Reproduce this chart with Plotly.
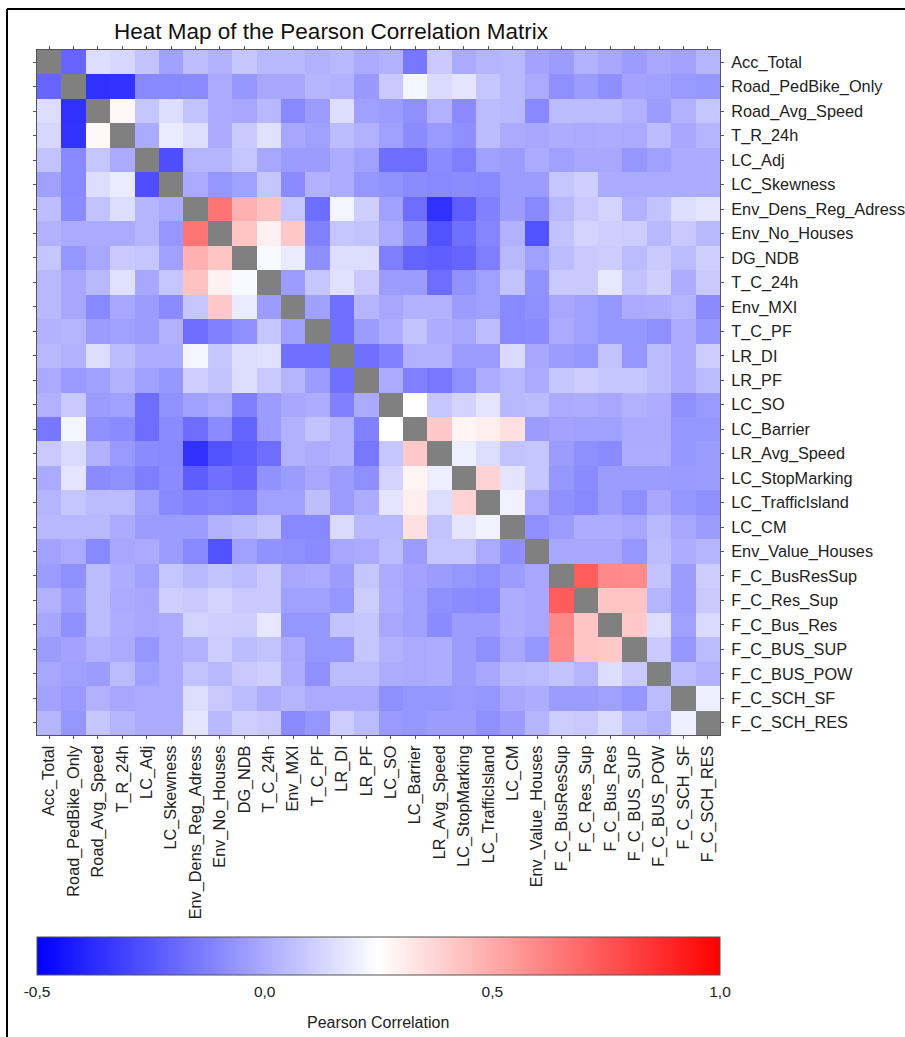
import numpy as np
import plotly.graph_objects as go

labels = ["Acc_Total","Road_PedBike_Only","Road_Avg_Speed","T_R_24h","LC_Adj","LC_Skewness",
          "Env_Dens_Reg_Adress","Env_No_Houses","DG_NDB","T_C_24h","Env_MXI","T_C_PF","LR_DI","LR_PF",
          "LC_SO","LC_Barrier","LR_Avg_Speed","LC_StopMarking","LC_TrafficIsland","LC_CM",
          "Env_Value_Houses","F_C_BusResSup","F_C_Res_Sup","F_C_Bus_Res","F_C_BUS_SUP","F_C_BUS_POW",
          "F_C_SCH_SF","F_C_SCH_RES"]

# Upper triangle of the symmetric matrix: each row starts just right of the diagonal
r00 = [-.2,.15,.13,.07,-.03,.06,.02,.08,.04,.04,.02,.04,0,.02,-.15,.09,0,.03,.04,-.02,-.04,.02,-.01,-.04,-.01,-.02,.03]
r01 = [-.36,-.35,-.1,-.1,-.09,0,-.06,-.01,-.01,.03,.02,-.05,.09,.22,.14,.17,.08,.04,0,-.08,-.04,-.08,-.02,-.03,-.05,-.06]
r02 = [.27,.08,.15,.07,0,-.01,.04,-.1,-.04,.15,-.03,-.04,-.08,.02,-.09,.05,.04,-.1,.05,.05,.05,.02,-.04,.02,.08]
r03 = [0,.19,.15,0,.09,.16,-.01,-.03,.05,.02,-.03,-.09,-.05,-.08,.05,0,-.01,.01,0,.01,0,.05,-.01,.03]
r04 = [-.27,.03,.03,.08,-.01,-.04,-.04,.01,-.03,-.18,-.18,-.09,-.13,-.03,-.04,0,-.03,-.01,-.01,-.06,-.03,0,0]
r05 = [0,-.06,-.03,.08,-.09,.02,.01,-.06,-.07,-.09,-.1,-.09,-.1,-.04,-.04,.08,.11,0,0,0,0,0]
r06 = [.66,.48,.43,.08,-.18,.22,.11,-.03,-.18,-.36,-.23,-.12,-.04,-.1,.04,.09,.12,.02,.07,.15,.17]
r07 = [.42,.29,.41,-.12,.08,.07,0,-.09,-.26,-.17,-.11,.02,-.26,.07,.12,.11,.1,.04,.09,.04]
r08 = [.23,.19,-.08,.15,.15,-.13,-.21,-.22,-.2,-.13,.04,-.03,.05,.09,.1,.05,.09,.05,.11]
r09 = [-.04,.08,.16,.09,-.04,-.04,-.18,-.07,-.03,.07,-.07,.09,.09,.18,.07,.11,.01,.09]
r10 = [-.03,-.17,.03,-.01,.02,.02,-.04,-.03,-.1,-.08,-.01,-.03,-.06,0,.01,.03,-.09]
r11 = [-.17,-.04,.01,.07,.01,-.01,.06,-.1,-.09,0,-.03,-.06,-.06,-.08,0,-.06]
r12 = [-.17,-.12,.02,.02,-.04,-.04,.14,-.01,-.04,-.06,.07,-.06,.05,0,.1]
r13 = [0,-.12,-.15,-.08,.01,.04,0,.08,.1,.08,.08,.05,0,.05]
r14 = [.25,.08,.12,.17,.04,.05,0,.01,-.01,.02,.01,-.08,-.05]
r15 = [.41,.28,.3,.34,-.04,-.02,-.03,-.03,0,0,-.06,-.06]
r16 = [.2,.15,.07,.08,-.04,-.08,-.09,.01,.01,-.06,-.04]
r17 = [.38,.17,.08,-.06,-.09,-.04,-.04,-.04,-.05,-.04]
r18 = [.21,0,-.08,-.1,-.04,-.08,-.01,-.06,-.08]
r19 = [-.08,-.04,.01,.01,-.01,.04,-.01,-.04]
r20 = [-.01,-.01,-.01,-.06,.05,.01,.03]
r21 = [.73,.6,.59,.07,-.04,.1]
r22 = [.42,.42,.03,-.04,.09]
r23 = [.41,.15,-.03,.14]
r24 = [.09,-.06,.05]
r25 = [.05,.02]
r26 = [.2]
upper = [r00,r01,r02,r03,r04,r05,r06,r07,r08,r09,r10,r11,r12,r13,r14,r15,r16,r17,r18,r19,r20,r21,r22,r23,r24,r25,r26]

cbar_ticks = [-0.5, 0.0, 0.5, 1.0]
cbar_text = ["-0,5", "0,0", "0,5", "1,0"]

n = len(labels)
z = np.full((n, n), np.nan)
for i, row in enumerate(upper):
    for j, v in enumerate(row):
        z[i, i + 1 + j] = v
        z[i + 1 + j, i] = v

W, H = 905, 1037
FONT = "Liberation Sans"
x0, x1, y0, y1 = 37, 720, 50, 735
PR = 805              # right edge of the plotting area; the heatmap takes only part of it
PH = y1 - y0
PW = PR - x0
frac = (x1 - x0) / PW

fig = go.Figure(go.Heatmap(
    z=z, x=labels, y=labels, zmin=-0.5, zmax=1, xgap=0, ygap=0, hoverongaps=False,
    colorscale=[[0, "#0000ff"], [0.5, "#ffffff"], [1, "#ff0000"]],
    colorbar=dict(
        orientation="h", x=0, xanchor="left", y=(y1 - 937) / PH, yanchor="top",
        lenmode="fraction", len=frac, thickness=38, thicknessmode="pixels",
        xpad=0, ypad=0, outlinecolor="#555555", outlinewidth=1,
        tickmode="array", tickvals=cbar_ticks, ticktext=cbar_text, ticks="outside", ticklen=3,
        tickcolor="rgba(0,0,0,0)",
        tickfont=dict(family=FONT, size=15.5, color="#222222"),
    ),
))

fig.update_layout(
    width=W, height=H, autosize=False,
    margin=dict(l=x0, r=W - PR, t=y0, b=H - y1),
    paper_bgcolor="white", plot_bgcolor="#808080",
    title=dict(text="Heat Map of the Pearson Correlation Matrix", x=114 / W, xanchor="left",
               y=1 - 31 / H, yanchor="middle", font=dict(family=FONT, size=22.5, color="#111111")),
    xaxis=dict(type="category", side="bottom", tickangle=-90, showgrid=False, zeroline=False, dtick=1,
               domain=[0, frac], automargin=False,
               ticks="outside", ticklen=3, tickcolor="#555555", showline=True, linecolor="#555555",
               mirror="ticks", tickfont=dict(family=FONT, size=16.3, color="#222222")),
    yaxis=dict(type="category", side="right", autorange="reversed", showgrid=False, zeroline=False, dtick=1,
               automargin=False,
               ticks="outside", ticklen=3, tickcolor="#555555", showline=True, linecolor="#555555",
               mirror="ticks", ticklabelstandoff=4, tickfont=dict(family=FONT, size=16.3, color="#222222")),
    annotations=[dict(text="Pearson Correlation", xref="paper", yref="paper", showarrow=False,
                      x=(378 - x0) / PW, y=(y1 - 1022) / PH, xanchor="center", yanchor="middle",
                      font=dict(family=FONT, size=16, color="#222222"))],
    shapes=[
        dict(type="line", xref="paper", yref="paper", x0=-30 / PW, x1=(W - x0) / PW,
             y0=(y1 - 9) / PH, y1=(y1 - 9) / PH, line=dict(color="black", width=2)),
        dict(type="line", xref="paper", yref="paper", x0=-30 / PW, x1=-30 / PW,
             y0=(y1 - 9) / PH, y1=(y1 - H) / PH, line=dict(color="black", width=2)),
    ],
)

fig.write_html("out.html", config={"displayModeBar": False},
               post_script="document.body.style.margin='0';document.body.style.overflow='hidden';")
